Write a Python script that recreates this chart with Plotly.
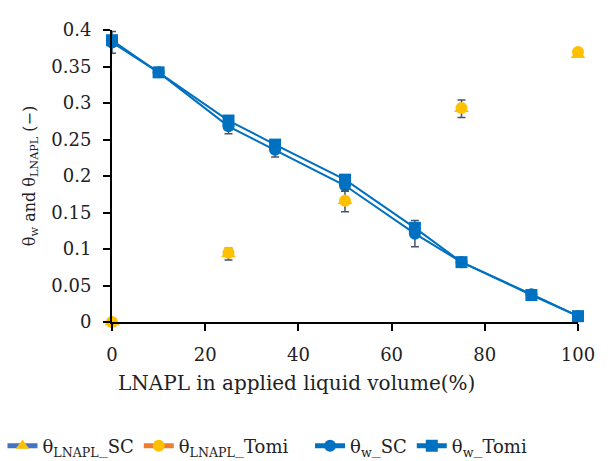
import plotly.graph_objects as go

x_lnapl = [0, 25, 50, 75, 100]
lnapl_sc = [0.0, 0.093, 0.166, 0.292, 0.366]
lnapl_sc_err = [0.002, 0.008, 0.015, 0.012, 0.003]
lnapl_tomi = [0.0, 0.095, 0.166, 0.293, 0.370]

x_w = [0, 10, 25, 35, 50, 65, 75, 90, 100]
w_sc = [0.383, 0.342, 0.268, 0.236, 0.187, 0.121, 0.082, 0.038, 0.008]
w_sc_err = [0.015, 0.002, 0.010, 0.010, 0.008, 0.018, 0.002, 0.003, 0.002]
w_tomi = [0.386, 0.342, 0.276, 0.243, 0.195, 0.129, 0.082, 0.037, 0.008]

x_ticks = [0, 20, 40, 60, 80, 100]
y_ticks = [0, 0.05, 0.1, 0.15, 0.2, 0.25, 0.3, 0.35, 0.4]
y_ticklabels = ["0", "0.05", "0.1", "0.15", "0.2", "0.25", "0.3", "0.35", "0.4"]

BLUE = "#0070C0"
YELLOW = "#FFC000"
ERR = "#44546A"
FONT = "DejaVu Serif, Liberation Serif, serif"

fig = go.Figure()

fig.add_trace(go.Scatter(
    x=x_w, y=w_sc, mode="lines+markers", showlegend=False, cliponaxis=False,
    line=dict(color=BLUE, width=2),
    marker=dict(symbol="circle", size=12, color=BLUE),
    error_y=dict(type="data", array=w_sc_err, color=ERR, thickness=1.5, width=4),
))
fig.add_trace(go.Scatter(
    x=x_w, y=w_tomi, mode="lines+markers", showlegend=False, cliponaxis=False,
    line=dict(color=BLUE, width=2),
    marker=dict(symbol="square", size=12, color=BLUE),
))
fig.add_trace(go.Scatter(
    x=x_lnapl, y=lnapl_sc, mode="markers", showlegend=False, cliponaxis=False,
    marker=dict(symbol="triangle-up", size=13, color=YELLOW),
    error_y=dict(type="data", array=lnapl_sc_err, color=ERR, thickness=1.5, width=4),
))
fig.add_trace(go.Scatter(
    x=x_lnapl, y=lnapl_tomi, mode="markers", showlegend=False, cliponaxis=False,
    marker=dict(symbol="circle", size=12, color=YELLOW),
))

legend_items = [
    ("θ<sub>LNAPL</sub>_SC", "#4472C4", "triangle-up", YELLOW, "legend"),
    ("θ<sub>LNAPL</sub>_Tomi", "#ED7D31", "circle", YELLOW, "legend"),
    ("θ<sub>w</sub>_SC", BLUE, "circle", BLUE, "legend2"),
    ("θ<sub>w</sub>_Tomi", BLUE, "square", BLUE, "legend2"),
]
for name, lc, sym, mc, lg in legend_items:
    fig.add_trace(go.Scatter(
        x=[None], y=[None], mode="lines+markers", name=name, legend=lg,
        line=dict(color=lc, width=1.5),
        marker=dict(symbol=sym, size=12, color=mc),
    ))

leg_common = dict(
    orientation="h", xanchor="left", y=-0.425, yanchor="middle",
    font=dict(family=FONT, size=18, color="#222"),
    tracegroupgap=0, itemsizing="constant", bgcolor="rgba(0,0,0,0)",
)

fig.update_layout(
    width=610, height=461,
    margin=dict(l=112, r=32, t=30, b=139, autoexpand=False),
    paper_bgcolor="white", plot_bgcolor="white",
    font=dict(family=FONT, size=17, color="#222"),
    showlegend=True,
    legend=dict(x=-0.235, **leg_common),
    legend2=dict(x=0.425, **leg_common),
    xaxis=dict(
        range=[0, 100], tickvals=x_ticks, ticks="outside", ticklen=7,
        tickwidth=1.5, tickcolor="black", ticklabelstandoff=8,
        showline=True, linecolor="black", linewidth=2, showgrid=False,
        zeroline=False,
        tickfont=dict(family=FONT, size=18),
    ),
    yaxis=dict(
        range=[0, 0.4], tickvals=y_ticks, ticktext=y_ticklabels,
        ticks="outside", ticklen=7, tickwidth=1.5, tickcolor="black",
        ticklabelstandoff=8,
        showline=True, linecolor="black", linewidth=2, showgrid=False,
        zeroline=False,
        title=dict(text="θ<sub>w</sub> and θ<sub>LNAPL</sub> (−)", standoff=12,
                   font=dict(family=FONT, size=16)),
        tickfont=dict(family=FONT, size=18),
    ),
    annotations=[dict(
        text="LNAPL in applied liquid volume(%)", xref="paper", yref="paper",
        x=0.395, y=-0.21, xanchor="center", yanchor="middle", showarrow=False,
        font=dict(family=FONT, size=20, color="#222"),
    )],
)

fig.write_html("out.html")
